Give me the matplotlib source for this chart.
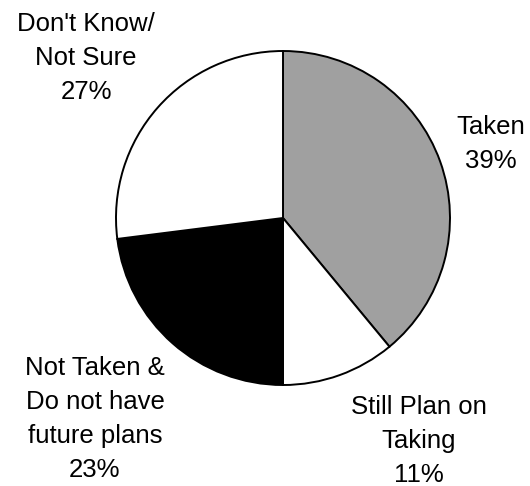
import matplotlib.pyplot as plt

# survey responses, clockwise from 12 o'clock
labels = [["Taken"],
          ["Still Plan on", "Taking"],
          ["Not Taken &", "Do not have", "future plans"],
          ["Don't Know/", "Not Sure"]]
shares = [39, 11, 23, 27]
colors = ["#a0a0a0", "white", "black", "white"]

# label anchors: x centre, baseline of first line (pixels from top-left)
label_pos = [(491, 134), (419, 414), (95, 375), (86, 31)]
line_step = 34

W, H = 530, 486
fig = plt.figure(figsize=(W / 100, H / 100), dpi=100)
ax = fig.add_axes([0, 0, 1, 1])
ax.set_xlim(0, W)
ax.set_ylim(0, H)
ax.set_aspect("equal")
ax.axis("off")

ax.pie(shares, colors=colors, startangle=90, counterclock=False,
       center=(283, H - 218), radius=167,
       wedgeprops=dict(edgecolor="black", linewidth=1.4))

for lines, val, (x, y) in zip(labels, shares, label_pos):
    for i, line in enumerate(lines + [f"{val}%"]):
        ax.text(x, H - (y + i * line_step), line, ha="center", va="baseline",
                fontsize=18.5, family="Liberation Sans")

ax.set_xlim(0, W)
ax.set_ylim(0, H)
fig.savefig("out.png", dpi=100)
